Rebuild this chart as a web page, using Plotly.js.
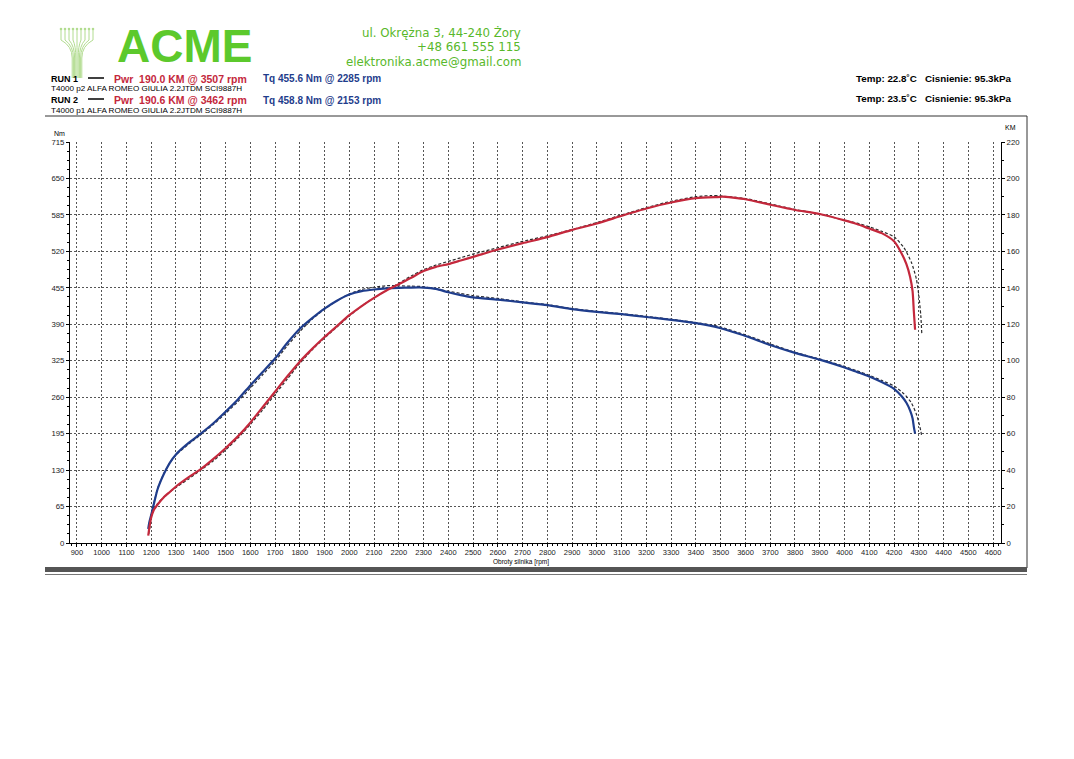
<!DOCTYPE html>
<html><head><meta charset="utf-8">
<script src="https://cdn.plot.ly/plotly-3.0.1.min.js"></script>
<style>html,body{margin:0;padding:0;background:#fff;}#chart{width:1074px;height:759px;}</style>
</head><body><div id="chart"></div>
<script>
// ---------- DATA ----------
const rpm1 = [1188,1192,1200,1210,1225,1250,1275,1300,1350,1400,1450,1500,1550,1600,1650,1700,1750,1800,1850,1900,1950,2000,2050,2100,2150,2200,2250,2285,2300,2350,2400,2450,2500,2600,2700,2800,2900,3000,3100,3200,3300,3400,3500,3507,3600,3700,3800,3900,4000,4050,4100,4150,4200,4230,4250,4265,4275,4280,4285];
const torque1 = [25,36,50,68,95,122,143,158,178,195,213,234,256,281,305,329,357,382,401,418,432,443,449,452,454,455,455.5,455.6,455.4,453,447,442,438,434,429,424,417,412,408,403,398,392,383,382,369,353,339,327,313,305,297,287,275,262,250,236,222,207,195];
const power1 = [4,8,14,18,21,25,28,31,36,40.5,46,52,58.5,66,74.5,83,91.5,99.5,106.5,113,119,125,130,134.5,138.5,142,145.5,148.2,149.2,151.5,153,155,157,161,164.5,167.8,171.8,175.3,179.5,183.5,186.8,189.2,189.9,190.0,188.6,185.6,182.7,180.5,177,175,172.5,170,165.5,159,153,146,138,127,117];

const rpm2 = [1190,1195,1200,1210,1225,1250,1275,1300,1350,1400,1450,1500,1550,1600,1650,1700,1750,1800,1850,1900,1950,2000,2050,2100,2153,2200,2250,2300,2350,2400,2450,2500,2600,2700,2800,2900,3000,3100,3200,3300,3400,3462,3500,3600,3700,3800,3900,4000,4050,4100,4150,4200,4240,4270,4290,4300,4308,4312];
const torque2 = [28,40,52,70,96,123,143,157,176,193,211,231,252,276,300,324,352,377,399,417,432,444,452,456,458.8,458.5,458,457,453,449,445,441,436,430,425,418,413,409,404,399,393,389,385,371,355,340,328,315,307,299,290,280,266,250,230,215,200,190];
const power2 = [5,9,14,18,21.5,25,28,30.5,35,40,45,51,57.5,65,73,81.5,90,98.5,106,112.5,118.5,124.5,130,134.5,138.8,142.5,146.5,150,152.5,154.5,156.5,158.5,162,165.5,168.5,172,175.8,180,184,187.5,190,190.6,190.4,189,186,183,180.5,177,175.5,173.5,171,168,162,154,145,136,125,115];

const xTicks = [900,1000,1100,1200,1300,1400,1500,1600,1700,1800,1900,2000,2100,2200,2300,2400,2500,2600,2700,2800,2900,3000,3100,3200,3300,3400,3500,3600,3700,3800,3900,4000,4100,4200,4300,4400,4500,4600];
const nmTicks = [0,65,130,195,260,325,390,455,520,585,650,715];
const kmTicks = [0,20,40,60,80,100,120,140,160,180,200,220];

// ---------- LAYOUT HELPERS ----------
const W=1074,H=759,L=70,R=73,T=142,B=216;
const pw=W-L-R, ph=H-T-B;
function PX(x){return (x-L)/pw;}
function PY(y){return (H-B-y)/ph;}
const FF='Liberation Sans, Arial, sans-serif';
const RED='#c4283c', BLUE='#1f3d8c', GREEN='#5cc92c', TGREEN='#58b82a';

const traces = [
 {x:rpm2,y:torque2,yaxis:'y',mode:'lines',line:{color:'#2b2b33',width:1.2,dash:'3px,2px',shape:'spline',smoothing:0.6},hoverinfo:'skip'},
 {x:rpm2,y:power2,yaxis:'y2',mode:'lines',line:{color:'#2b2b2b',width:1.2,dash:'3px,2px',shape:'spline',smoothing:0.6},hoverinfo:'skip'},
 {x:rpm1,y:torque1,yaxis:'y',mode:'lines',line:{color:BLUE,width:2.2,shape:'spline',smoothing:0.6}},
 {x:rpm1,y:power1,yaxis:'y2',mode:'lines',line:{color:RED,width:2.2,shape:'spline',smoothing:0.6}}
];

function ann(x,y,text,size,color,anchor,extra){
  return Object.assign({xref:'paper',yref:'paper',x:PX(x),y:PY(y),text:text,showarrow:false,
    xanchor:anchor||'left',yanchor:'middle',font:{family:FF,size:size,color:color||'#000'},borderpad:0},extra||{});
}
const DV = s=>({family:'DejaVu Sans, sans-serif',size:s,color:TGREEN});

const annotations = [
 // logo
 ann(184,45.5,'<b>ACME</b>',46,GREEN,'center'),
 // address
 ann(522,32,'ul. Okrężna 3, 44-240 Żory',11.8,TGREEN,'right',{font:DV(11.8)}),
 ann(522,47,'+48 661 555 115',11.8,TGREEN,'right',{font:DV(11.8)}),
 ann(522,62,'elektronika.acme@gmail.com',11.8,TGREEN,'right',{font:DV(11.8)}),
 // run lines
 ann(50,79,'<b>RUN 1</b>',9,'#000'),
 ann(113,79,'<b>Pwr  190.0 KM @ 3507 rpm</b>',10.5,RED),
 ann(262,79,'<b>Tq 455.6 Nm @ 2285 rpm</b>',10,BLUE),
 ann(50,89,'T4000 p2 ALFA ROMEO GIULIA 2.2JTDM SCI9887H',8.1,'#000'),
 ann(50,100,'<b>RUN 2</b>',9,'#000'),
 ann(113,100,'<b>Pwr  190.6 KM @ 3462 rpm</b>',10.5,RED),
 ann(262,100,'<b>Tq 458.8 Nm @ 2153 rpm</b>',10,BLUE),
 ann(50,110,'T4000 p1 ALFA ROMEO GIULIA 2.2JTDM SCI9887H',8.1,'#000'),
 ann(1013,79,'<b>Temp: 22.8˚C   Cisnienie: 95.3kPa</b>',9.8,'#000','right'),
 ann(1013,99,'<b>Temp: 23.5˚C   Cisnienie: 95.3kPa</b>',9.8,'#000','right'),
 // axis labels
 ann(53,134,'Nm',7,'#000'),
 ann(1004,128,'KM',7,'#000'),
 ann(521,562,'Obroty silnika [rpm]',6.5,'#000','center')
];

const shapes = [
 // legend line samples
 {type:'line',xref:'paper',yref:'paper',x0:PX(88),x1:PX(104),y0:PY(78),y1:PY(78),line:{color:'#000',width:1.5}},
 {type:'line',xref:'paper',yref:'paper',x0:PX(88),x1:PX(104),y0:PY(99),y1:PY(99),line:{color:'#000',width:1.5}},
 // frame
 {type:'line',xref:'paper',yref:'paper',x0:PX(45),x1:PX(1027),y0:PY(116),y1:PY(116),line:{color:'#333',width:1}},
 {type:'line',xref:'paper',yref:'paper',x0:PX(1027),x1:PX(1027),y0:PY(116),y1:PY(568),line:{color:'#333',width:1}},
 {type:'rect',xref:'paper',yref:'paper',x0:PX(45),x1:PX(1027),y0:PY(567),y1:PY(572),fillcolor:'#555',line:{width:0}},
 {type:'line',xref:'paper',yref:'paper',x0:PX(45),x1:PX(1027),y0:PY(574.5),y1:PY(574.5),line:{color:'#777',width:1}}
];
// logo tree icon (decorative)
for(let k=-4;k<=4;k++){
  const bx=77+k*1.2, tx=77+k*4.0;
  const p='M '+PX(bx)+' '+PY(78)+' L '+PX(bx)+' '+PY(58)+' Q '+PX(bx)+' '+PY(46)+' '+PX(tx)+' '+PY(40)+' L '+PX(tx)+' '+PY(29);
  shapes.push({type:'path',xref:'paper',yref:'paper',path:p,line:{color:'#b2dc90',width:1}});
  shapes.push({type:'circle',xref:'paper',yref:'paper',x0:PX(tx-1.3),x1:PX(tx+1.3),y0:PY(29+1.3),y1:PY(29-1.3),fillcolor:'#b2dc90',line:{width:0}});
}

const axisCommon = {showline:true,linecolor:'#000',linewidth:1,ticks:'outside',ticklen:3,tickcolor:'#000',
  tickfont:{family:FF,size:7.5,color:'#222'},zeroline:false,fixedrange:true};

const layout = {
 width:W,height:H,margin:{l:L,r:R,t:T,b:B,pad:0},
 paper_bgcolor:'#fff',plot_bgcolor:'#fff',showlegend:false,
 xaxis:Object.assign({},axisCommon,{range:[872,4632],tickmode:'array',tickvals:xTicks,ticktext:xTicks.map(String),
   showgrid:true,gridcolor:'#555',griddash:'2px,2px',gridwidth:1,ticklabelstandoff:-1,
   minor:{tick0:900,dtick:20,ticks:'outside',ticklen:2,tickcolor:'#000',showgrid:false}}),
 yaxis:Object.assign({},axisCommon,{range:[0,715],tickmode:'array',tickvals:nmTicks,ticktext:nmTicks.map(String),
   showgrid:true,gridcolor:'#555',griddash:'2px,2px',gridwidth:1,tickfont:{family:FF,size:7.8,color:'#222'},
   minor:{tick0:0,dtick:16.25,ticks:'outside',ticklen:2,tickcolor:'#000',showgrid:false}}),
 yaxis2:Object.assign({},axisCommon,{overlaying:'y',side:'right',range:[0,220],tickmode:'array',tickvals:kmTicks,ticktext:kmTicks.map(String),
   showgrid:false,tickfont:{family:FF,size:7.8,color:'#222'},
   minor:{tick0:0,dtick:10,ticks:'outside',ticklen:2,tickcolor:'#000',showgrid:false}}),
 annotations:annotations,shapes:shapes
};
Plotly.newPlot('chart',traces,layout,{displayModeBar:false,staticPlot:true});
</script>
</body></html>
